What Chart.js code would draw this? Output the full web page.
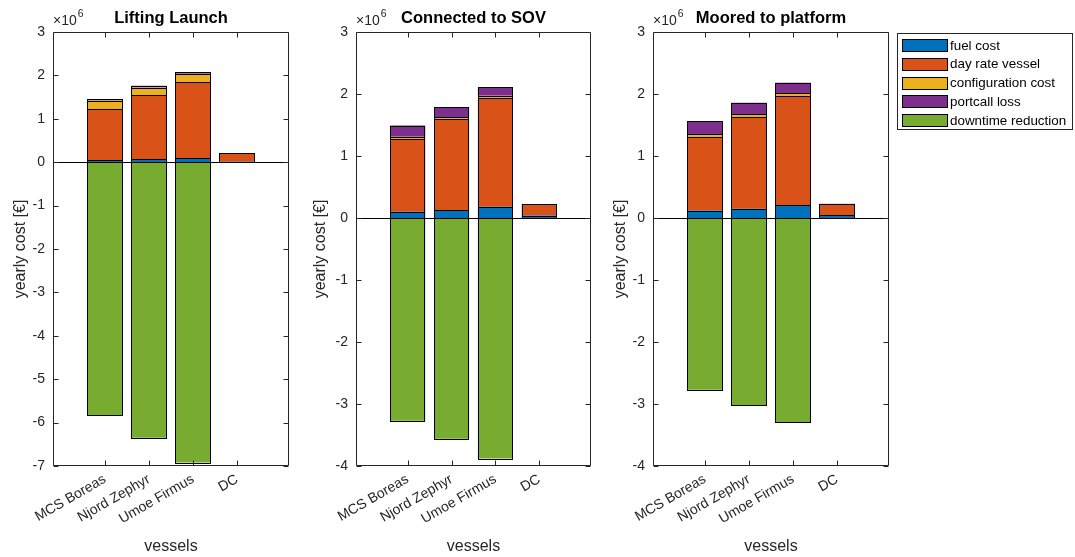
<!DOCTYPE html>
<html><head><meta charset="utf-8">
<script src="https://cdn.jsdelivr.net/npm/chart.js@4.4.0/dist/chart.umd.min.js"></script>
<style>
html,body{margin:0;padding:0;background:#fff}
body{width:1075px;height:557px;overflow:hidden;position:relative}
canvas{position:absolute;top:0}
</style></head><body>
<canvas id="p1" width="300" height="557" style="left:0"></canvas>
<canvas id="p2" width="300" height="557" style="left:300px"></canvas>
<canvas id="p3" width="475" height="557" style="left:600px"></canvas>
<script>
// ---------------- data (yearly cost in €) ----------------
const categories = ['MCS Boreas', 'Njord Zephyr', 'Umoe Firmus', 'DC'];
const seriesNames = ['fuel cost', 'day rate vessel', 'configuration cost', 'portcall loss', 'downtime reduction'];
const panelTitles = ['Lifting Launch', 'Connected to SOV', 'Moored to platform'];

const liftFuel     = [50000, 70000, 90000, 10000];
const liftDayRate  = [1180000, 1470000, 1750000, 200000];
const liftConfig   = [190000, 180000, 200000, 0];
const liftPortcall = [30000, 40000, 40000, 0];
const liftDowntime = [-5830000, -6350000, -6920000, 0];

const sovFuel     = [100000, 130000, 180000, 40000];
const sovDayRate  = [1180000, 1470000, 1760000, 180000];
const sovConfig   = [30000, 30000, 30000, 0];
const sovPortcall = [180000, 160000, 140000, 0];
const sovDowntime = [-3270000, -3560000, -3880000, 0];

const moorFuel     = [120000, 150000, 210000, 50000];
const moorDayRate  = [1190000, 1480000, 1760000, 180000];
const moorConfig   = [40000, 40000, 40000, 0];
const moorPortcall = [210000, 190000, 170000, 0];
const moorDowntime = [-2770000, -3020000, -3290000, 0];

const yTicksLift = [-7, -6, -5, -4, -3, -2, -1, 0, 1, 2, 3];
const yTicksOther = [-4, -3, -2, -1, 0, 1, 2, 3];

// ---------------- styles ----------------
const colors = ['#0072BD', '#D95319', '#EDB120', '#7E2F8E', '#77AC30'];
const AX = '#262626';
const FONT = 'Liberation Sans, Arial, Helvetica, sans-serif';

function makeDatasets(series) {
  return series.map((vals, k) => ({
    label: seriesNames[k],
    data: vals.map((v, i) => ({x: i + 1, y: v})),
    backgroundColor: colors[k],
    borderWidth: 0,
    barPercentage: 0.8,
    categoryPercentage: 1.0
  }));
}

const framePlugin = {
  id: 'frame',
  afterDatasetsDraw(chart) {
    const {ctx, chartArea: a, scales: {x, y}} = chart;
    ctx.save();
    // bar outlines
    ctx.strokeStyle = '#000';
    ctx.lineWidth = 1;
    chart.data.datasets.forEach((ds, di) => {
      const meta = chart.getDatasetMeta(di);
      meta.data.forEach(el => {
        const p = el.getProps(['x', 'y', 'base', 'width'], true);
        const l = Math.round(p.x - p.width / 2) + 0.5;
        const r = Math.round(p.x + p.width / 2) - 0.5;
        const t = Math.round(Math.min(p.y, p.base)) + 0.5;
        const b = Math.round(Math.max(p.y, p.base)) + 0.5;
        ctx.strokeRect(l, t, r - l, b - t);
      });
    });
    // zero baseline
    const y0 = Math.round(y.getPixelForValue(0)) + 0.5;
    ctx.beginPath(); ctx.moveTo(a.left, y0); ctx.lineTo(a.right, y0); ctx.stroke();
    // box
    ctx.strokeStyle = AX;
    const L = Math.round(a.left) + 0.5, R = Math.round(a.right) - 0.5;
    const T = Math.round(a.top) + 0.5, B = Math.round(a.bottom) - 0.5;
    ctx.beginPath(); ctx.rect(L, T, R - L, B - T); ctx.stroke();
    // inward ticks
    const tl = 5;
    ctx.beginPath();
    x.ticks.forEach(t => {
      const px = Math.round(x.getPixelForValue(t.value)) + 0.5;
      ctx.moveTo(px, B); ctx.lineTo(px, B - tl);
      ctx.moveTo(px, T); ctx.lineTo(px, T + tl);
    });
    y.ticks.forEach(t => {
      const py = Math.round(y.getPixelForValue(t.value)) + 0.5;
      ctx.moveTo(L, py); ctx.lineTo(L + tl, py);
      ctx.moveTo(R, py); ctx.lineTo(R - tl, py);
    });
    ctx.stroke();
    // title
    const o = chart.options.plugins.frame;
    ctx.fillStyle = '#000';
    ctx.font = 'bold 16.5px ' + FONT;
    ctx.textAlign = 'center';
    ctx.textBaseline = 'middle';
    ctx.fillText(o.title, (a.left + a.right) / 2, 18);
    // exponent label
    ctx.fillStyle = AX;
    ctx.textAlign = 'left';
    ctx.textBaseline = 'alphabetic';
    ctx.font = '14px ' + FONT;
    ctx.fillText('\u00d710', a.left, 25);
    const w = ctx.measureText('\u00d710').width;
    ctx.font = '10.5px ' + FONT;
    ctx.fillText('6', a.left + w + 1, 17);
    // legend
    if (o.legend) {
      const lx = o.legend.x, ly = o.legend.y, lw = o.legend.w, lh = o.legend.h;
      ctx.fillStyle = '#fff';
      ctx.fillRect(lx, ly, lw, lh);
      ctx.strokeStyle = AX;
      ctx.strokeRect(lx + 0.5, ly + 0.5, lw - 1, lh - 1);
      ctx.font = '13.4px ' + FONT;
      ctx.textBaseline = 'middle';
      chart.data.datasets.forEach((ds, i) => {
        const cy = ly + 12.5 + i * 18.75;
        ctx.fillStyle = ds.backgroundColor;
        ctx.fillRect(lx + 5, Math.round(cy - 6.5), 46, 13);
        ctx.strokeStyle = '#000';
        ctx.strokeRect(lx + 5.5, Math.round(cy - 6.5) + 0.5, 45, 12);
        ctx.fillStyle = '#000';
        ctx.fillText(ds.label, lx + 53, cy + 0.5);
      });
    }
    ctx.restore();
  }
};

function makeChart(id, series, title, yTicks, yAxisW, padRight, legend) {
  return new Chart(document.getElementById(id), {
    type: 'bar',
    data: {datasets: makeDatasets(series)},
    plugins: [framePlugin],
    options: {
      responsive: false,
      animation: false,
      devicePixelRatio: 1,
      layout: {padding: {top: 32, right: padRight, left: 0, bottom: 0}},
      plugins: {
        legend: {display: false},
        title: {display: false},
        tooltip: {enabled: false},
        frame: {title: title, legend: legend}
      },
      scales: {
        x: {
          type: 'linear',
          stacked: true,
          offset: false,
          min: -0.18,
          max: 5.18,
          afterBuildTicks: s => { s.ticks = categories.map((c, i) => ({value: i + 1})); },
          afterFit: s => { s.height = 91; },
          grid: {display: false, drawTicks: false},
          border: {display: false},
          ticks: {
            autoSkip: false,
            minRotation: 30,
            maxRotation: 30,
            padding: 5,
            color: AX,
            font: {family: FONT, size: 14},
            callback: v => categories[v - 1] || ''
          },
          title: {display: true, text: 'vessels', color: AX, font: {family: FONT, size: 16}, padding: {top: 0, bottom: 1}}
        },
        y: {
          stacked: true,
          min: yTicks[0] * 1e6,
          max: yTicks[yTicks.length - 1] * 1e6,
          afterBuildTicks: s => { s.ticks = yTicks.map(v => ({value: v * 1e6})); },
          afterFit: s => { s.width = yAxisW; },
          grid: {display: false, drawTicks: false},
          border: {display: false},
          ticks: {
            padding: 8,
            color: AX,
            font: {family: FONT, size: 14},
            callback: v => String(Math.round(v / 1e6))
          },
          title: {display: true, text: 'yearly cost [€]', color: AX, font: {family: FONT, size: 16}, padding: {top: 11, bottom: 0}}
        }
      }
    }
  });
}

makeChart('p1', [liftFuel, liftDayRate, liftConfig, liftPortcall, liftDowntime], panelTitles[0], yTicksLift, 53, 11, null);
makeChart('p2', [sovFuel, sovDayRate, sovConfig, sovPortcall, sovDowntime], panelTitles[1], yTicksOther, 56, 9, null);
makeChart('p3', [moorFuel, moorDayRate, moorConfig, moorPortcall, moorDowntime], panelTitles[2], yTicksOther, 53, 186,
  {x: 297, y: 33, w: 176, h: 97});
</script>
</body></html>
